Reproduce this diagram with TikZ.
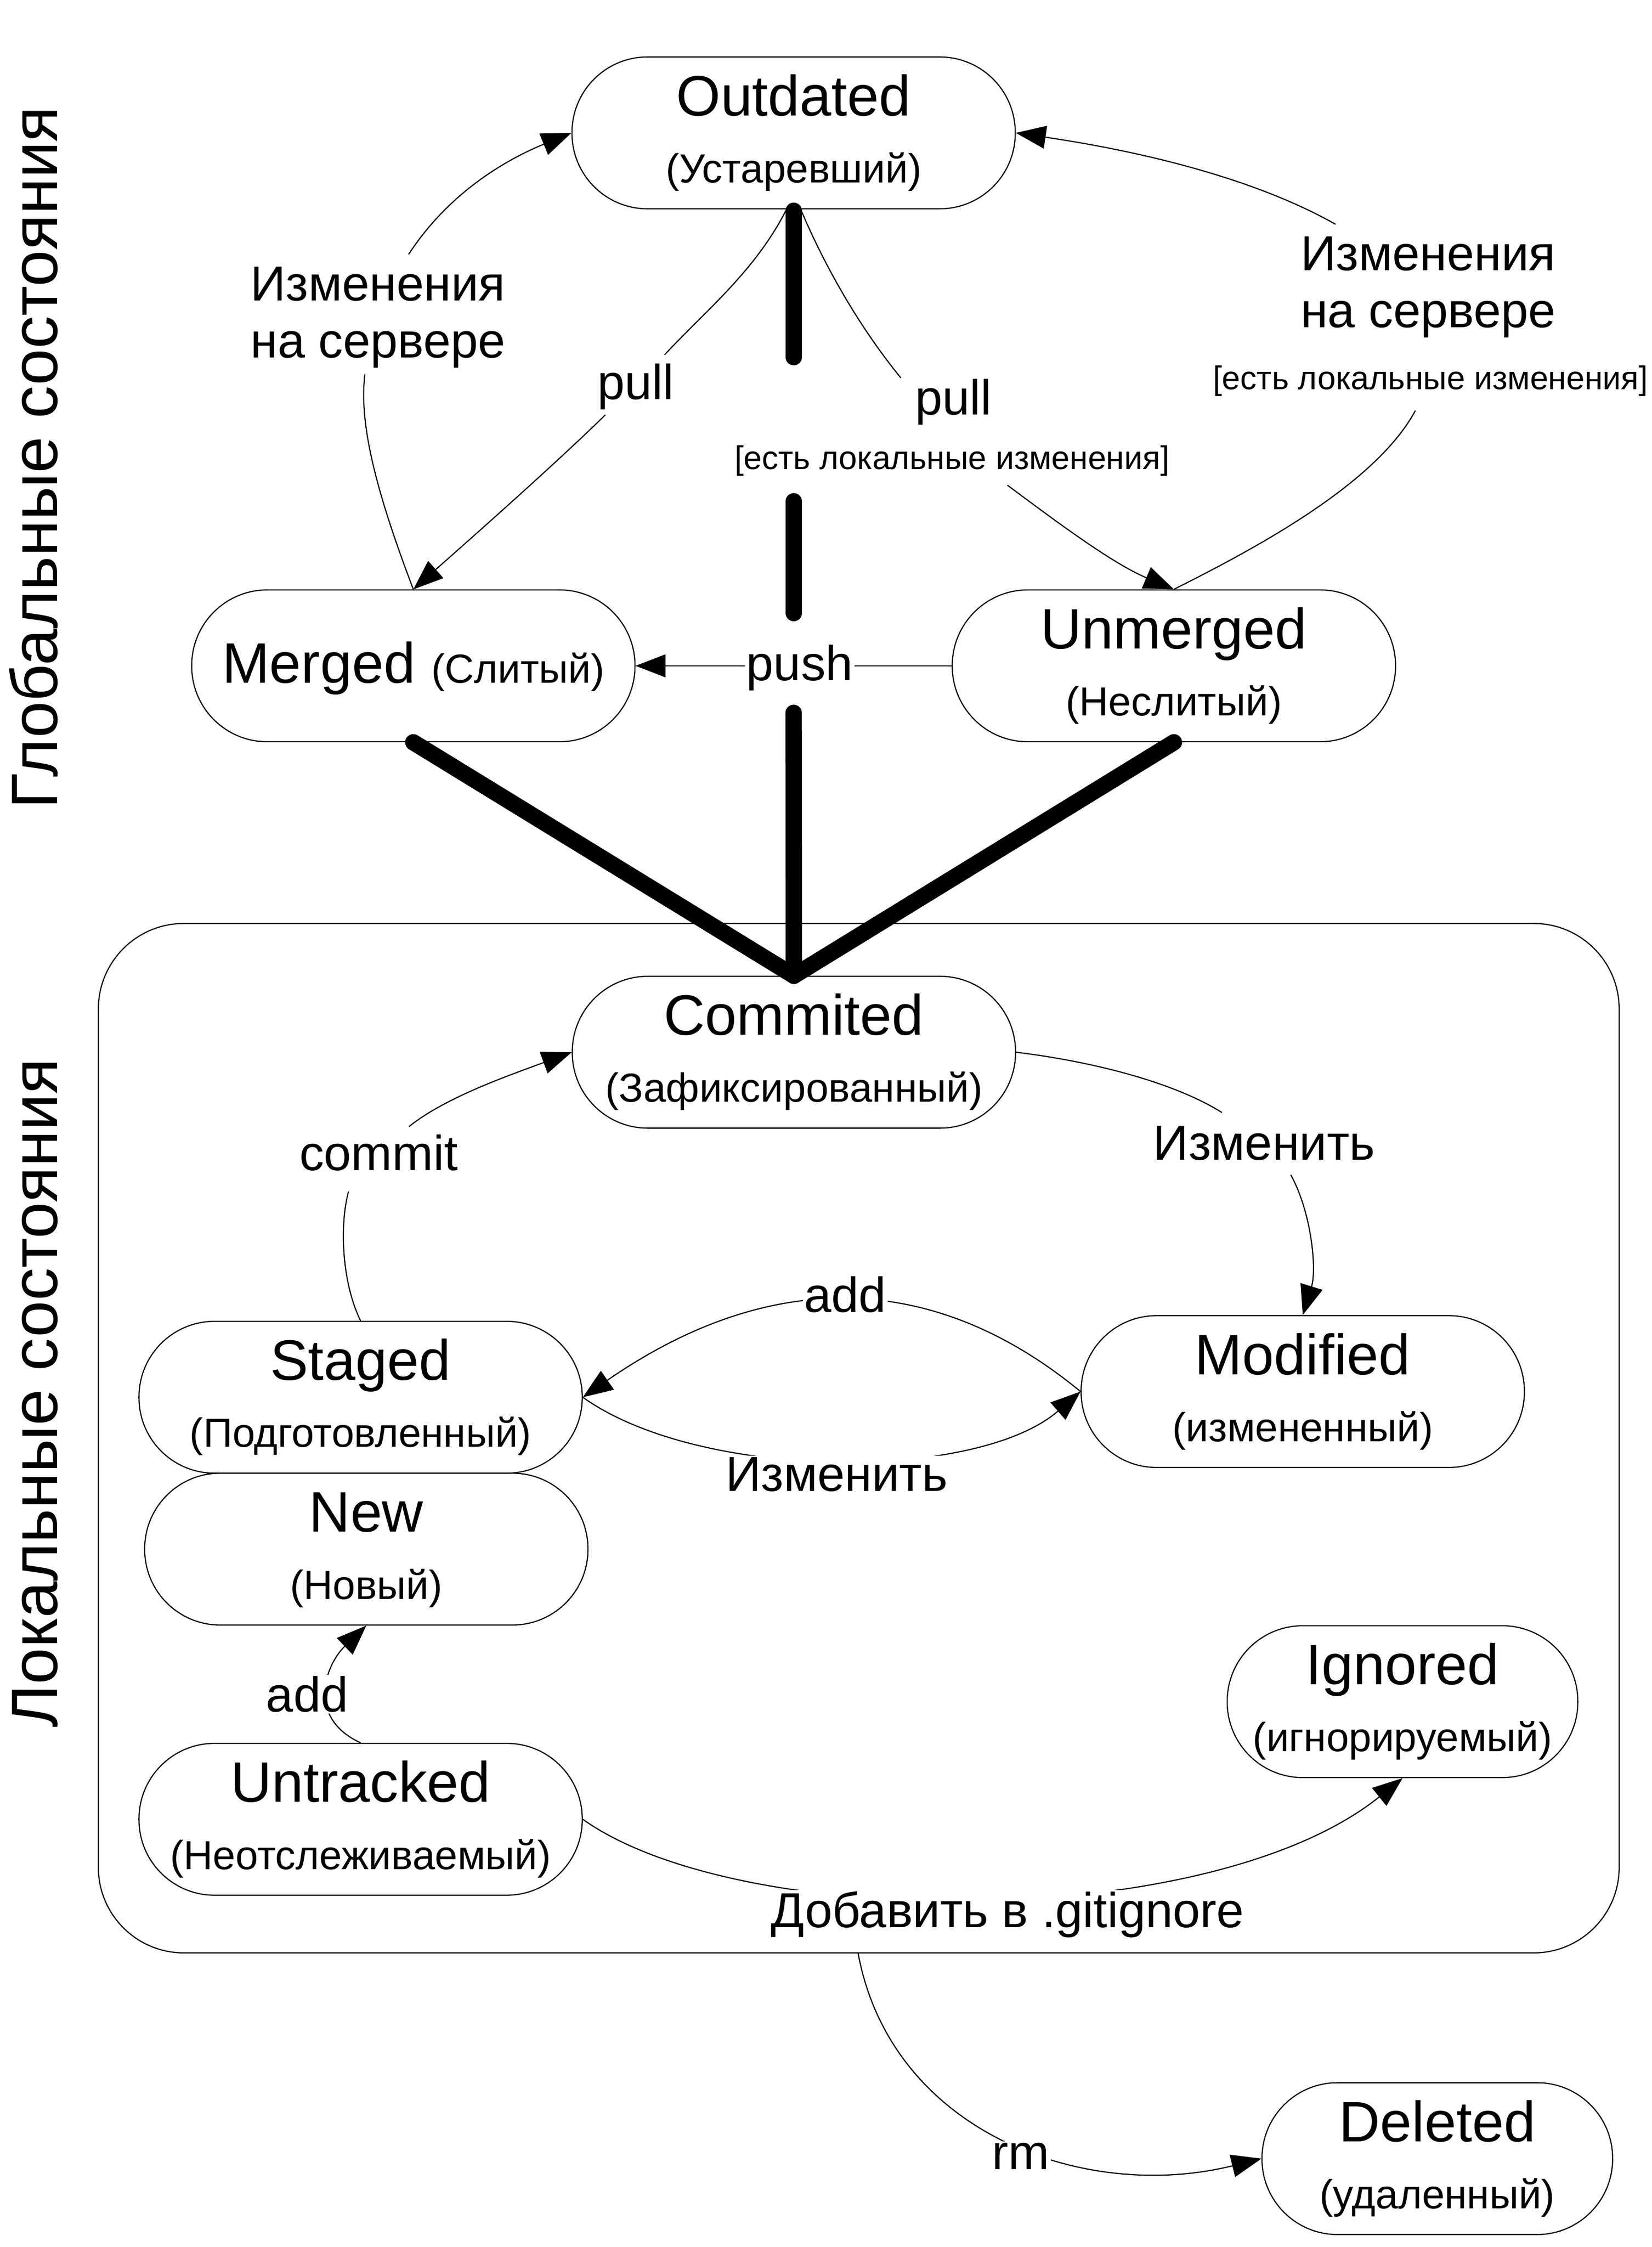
\documentclass[tikz,border=0pt]{standalone}
\usepackage{fontspec}
\setmainfont{Liberation Sans}
\usetikzlibrary{arrows.meta,backgrounds,calc}
\begin{document}
\begin{tikzpicture}[x=1pt,y=-1pt,
  st/.style={draw, line width=0.8pt, rounded corners=53pt, minimum width=311pt, minimum height=106.5pt, inner sep=0pt},
  stn/.style={st, minimum width=246pt},
  mt/.style={anchor=base, font=\fontsize{40}{48}\selectfont, inner sep=0pt},
  sb/.style={anchor=base, font=\fontsize{28.5}{34}\selectfont, inner sep=0pt},
  lb/.style={anchor=base, font=\fontsize{34.5}{41}\selectfont, fill=white, inner sep=1pt},
  br/.style={anchor=base, font=\fontsize{23}{28}\selectfont, fill=white, inner sep=1pt},
  ttl/.style={anchor=base, rotate=90, font=\fontsize{46}{55}\selectfont, inner sep=0pt},
  cn/.style={line width=0.8pt},
  ar/.style={line width=0.8pt, -{Triangle[length=21pt,width=16pt]}},
  tk/.style={line width=11.5pt, line cap=round, line join=round},
]
\useasboundingbox (0,0) rectangle (1159,1576);

% titles
\node[ttl] (tglob) at (40,321) {Глобальные состояния};
\node[ttl] (tloc) at (40,977) {Локальные состояния};

% container
\node[draw, line width=0.8pt, rounded corners=60pt, minimum width=1067pt, minimum height=722pt, inner sep=0pt] (loc) at (602.5,1008.7) {};

% state nodes
\node[st] (out) at (556.8,93.2) {};
\node[mt] (outT) at (556.8,81.2) {Outdated};
\node[sb] (outS) at (556.8,128.2) {(Устаревший)};

\node[st] (mer) at (290,467) {};
\node[anchor=base, inner sep=0pt] (merT) at (290,479) {\fontsize{40}{48}\selectfont Merged \fontsize{28.5}{34}\selectfont(Слитый)};

\node[st] (unm) at (823.6,467) {};
\node[mt] (unmT) at (823.6,455) {Unmerged};
\node[sb] (unmS) at (823.6,502) {(Неслитый)};

\node[st] (com) at (557,738) {};
\node[mt] (comT) at (557,726) {Commited};
\node[sb] (comS) at (557,773) {(Зафиксированный)};

\node[st] (stg) at (253,980) {};
\node[mt] (stgT) at (253,968) {Staged};
\node[sb] (stgS) at (253,1015) {(Подготовленный)};

\node[st] (new) at (257,1086.5) {};
\node[mt] (newT) at (257,1074.5) {New};
\node[sb] (newS) at (257,1121.5) {(Новый)};

\node[st] (mod) at (914,976) {};
\node[mt] (modT) at (914,964) {Modified};
\node[sb] (modS) at (914,1011) {(измененный)};

\node[stn] (ign) at (984,1193.5) {};
\node[mt] (ignT) at (984,1181.5) {Ignored};
\node[sb] (ignS) at (984,1228.5) {(игнорируемый)};

\node[st] (unt) at (253,1276) {};
\node[mt] (untT) at (253,1264) {Untracked};
\node[sb] (untS) at (253,1311) {(Неотслеживаемый)};

\node[stn] (del) at (1008.4,1514) {};
\node[mt] (delT) at (1008.4,1502) {Deleted};
\node[sb] (delS) at (1008.4,1549) {(удаленный)};

% labels
\node[lb] (l1a) at (265.2,211) {Изменения};
\node[lb] (l1b) at (265.2,251) {на сервере};
\node[lb] (l2) at (446,280) {pull};
\node[lb] (l3) at (669,291) {pull};
\node[br] (l3b) at (668,329.3) {[есть локальные изменения]};
\node[lb] (l4a) at (1002,189.6) {Изменения};
\node[lb] (l4b) at (1002,229.6) {на сервере};
\node[br] (l4c) at (1003.7,273) {[есть локальные изменения]};
\node[lb] (l5) at (561,477.3) {push};
\node[lb] (l6) at (265.7,821) {commit};
\node[lb] (l7) at (887,813.5) {Изменить};
\node[lb] (l8) at (593,920.4) {add};
\node[lb] (l9) at (587,1045.8) {Изменить};
\node[lb] (l10) at (215.5,1200.6) {add};
\node[lb] (l11) at (707,1352) {Добавить в .gitignore};
\node[lb] (l12) at (716,1521.5) {rm};

% coordinates for gaps
\coordinate (t1) at (556.8,250.5);
\coordinate (t2) at (556.8,351.6);
\coordinate (t3) at (556.8,430);
\coordinate (t4) at (556.8,500);
\coordinate (c1a) at (256,262.6);
\coordinate (c1b) at (286.7,178.4);
\coordinate (p1a) at (466.3,248.8);
\coordinate (p1b) at (424.7,291);
\coordinate (p2a) at (632,265);
\coordinate (p2b) at (706.8,340.3);
\coordinate (c2a) at (993,288);
\coordinate (c2b) at (937,157.3);
\coordinate (cm1) at (244.5,835.7);
\coordinate (cm2) at (286.9,790.2);
\coordinate (m1) at (857.3,780.3);
\coordinate (m2) at (905.6,824);
\coordinate (rms) at (602,1369.7);

\begin{scope}[on background layer]
% thick lines
\draw[tk] ($(out.south)+(0,1)$) -- (t1);
\draw[tk] (t2) -- (t3);
\draw[tk] (t4) -- (com.north);
\draw[tk] (mer.south) -- (com.north);
\draw[tk] (unm.south) -- (com.north);
% global transitions
\draw[cn] (mer.north) .. controls (262,340) and (252,295) .. (c1a);
\draw[ar] (c1b) .. controls (315,135) and (355,112) .. (out.west);
\draw[cn] ($(out.south)+(-5,0)$) .. controls (530,190) and (495,218) .. (p1a);
\draw[ar] (p1b) .. controls (390,325) and (330,378) .. (mer.north);
\draw[cn] ($(out.south)+(5,0)$) .. controls (580,190) and (605,232) .. (p2a);
\draw[ar] (p2b) .. controls (740,365) and (780,395) .. (unm.north);
\draw[cn] (unm.north) .. controls (880,385) and (965,340) .. (c2a);
\draw[ar] (c2b) .. controls (880,125) and (800,106) .. (out.east);
\draw[ar] (unm.west) -- (mer.east);
% local transitions
\draw[cn] (stg.north) .. controls (240,900) and (238,860) .. (cm1);
\draw[ar] (cm2) .. controls (312,770) and (355,755) .. (com.west);
\draw[cn] (com.east) .. controls (770,745) and (825,760) .. (m1);
\draw[ar] (m2) .. controls (920,850) and (924,890) .. (mod.north);
\draw[ar] (mod.west) .. controls (653.7,890) and (539,890) .. (stg.east);
\draw[ar] (stg.east) .. controls (491.6,1039) and (685.4,1039) .. (mod.west);
\draw[ar] (unt.north) .. controls (215,1205) and (228,1168) .. (new.south);
\draw[ar] (unt.east) .. controls (520,1355) and (850,1355) .. (ign.south);
\draw[ar] (rms) .. controls (625,1495) and (760,1545) .. (del.west);
\end{scope}
\end{tikzpicture}
\end{document}
